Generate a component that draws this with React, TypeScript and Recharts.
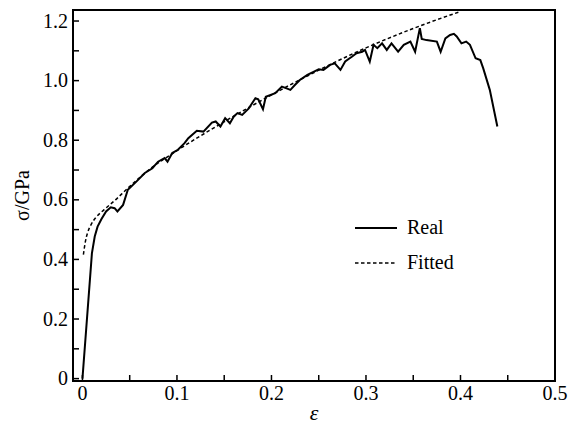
import { LineChart, Line, XAxis, YAxis, ReferenceArea, Legend } from 'recharts';

// measured curve (strain, stress in GPa)
const realStrain = [
  0, 0.010, 0.013, 0.016, 0.020, 0.025, 0.030, 0.034, 0.037, 0.043, 0.048, 0.057, 0.066, 0.074,
  0.080, 0.087, 0.090, 0.095, 0.101, 0.108, 0.112, 0.121, 0.128, 0.137, 0.141, 0.146, 0.151,
  0.156, 0.160, 0.164, 0.169, 0.176, 0.183, 0.186, 0.191, 0.194, 0.204, 0.211, 0.216, 0.220,
  0.225, 0.230, 0.238, 0.245, 0.250, 0.255, 0.262, 0.267, 0.273, 0.278, 0.285, 0.290, 0.296,
  0.299, 0.304, 0.308, 0.312, 0.317, 0.322, 0.327, 0.334, 0.340, 0.347, 0.352, 0.357, 0.359,
  0.364, 0.375, 0.379, 0.384, 0.389, 0.393, 0.396, 0.401, 0.406, 0.410, 0.416, 0.421, 0.424,
  0.431, 0.439,
];
const realStress = [
  0, 0.420, 0.477, 0.510, 0.535, 0.561, 0.575, 0.572, 0.561, 0.583, 0.634, 0.661, 0.690, 0.706,
  0.728, 0.740, 0.728, 0.757, 0.768, 0.790, 0.807, 0.832, 0.829, 0.859, 0.863, 0.846, 0.874,
  0.857, 0.879, 0.891, 0.885, 0.907, 0.941, 0.937, 0.904, 0.946, 0.958, 0.980, 0.974, 0.969,
  0.986, 1.002, 1.019, 1.030, 1.038, 1.036, 1.053, 1.058, 1.036, 1.064, 1.080, 1.092, 1.097,
  1.103, 1.064, 1.120, 1.109, 1.125, 1.103, 1.125, 1.097, 1.120, 1.131, 1.097, 1.176, 1.140,
  1.136, 1.131, 1.097, 1.142, 1.153, 1.157, 1.148, 1.125, 1.131, 1.120, 1.075, 1.069, 1.042,
  0.969, 0.846,
];

// fitted curve
const fitStrain = [0.001, 0.003, 0.0055, 0.009, 0.014, 0.023, 0.035, 0.048, 0.07, 0.1, 0.15, 0.2, 0.25, 0.3, 0.35, 0.4];
const fitStress = [0.416, 0.458, 0.49, 0.516, 0.54, 0.567, 0.6, 0.639, 0.7, 0.765, 0.862, 0.952, 1.035, 1.11, 1.175, 1.232];

const xTicks = [0, 0.05, 0.1, 0.15, 0.2, 0.25, 0.3, 0.35, 0.4, 0.45, 0.5];
const yTicks = [0, 0.1, 0.2, 0.3, 0.4, 0.5, 0.6, 0.7, 0.8, 0.9, 1.0, 1.1, 1.2];

const realData = realStrain.map((e, i) => ({ e, s: realStress[i] }));
const fitData = fitStrain.map((e, i) => ({ e, s: fitStress[i] }));

const FONT = '"Liberation Serif", "DejaVu Serif", serif';

const fmt = (v: number) => (v === 0 ? '0' : v.toFixed(1));

const XTick = ({ x, y, payload }: any) => {
  const v = payload.value;
  const major = Math.round(v * 100) % 10 === 0;
  return (
    <g>
      <line x1={x} y1={y} x2={x} y2={y - 6} stroke="#000" strokeWidth={1.5} />
      {major && (
        <text x={x} y={y + 19} textAnchor="middle" fontFamily={FONT} fontSize={20} fill="#000">
          {fmt(v)}
        </text>
      )}
    </g>
  );
};

const YTick = ({ x, y, payload }: any) => {
  const v = payload.value;
  const major = Math.round(v * 10) % 2 === 0;
  return (
    <g>
      <line x1={x} y1={y} x2={x + 6} y2={y} stroke="#000" strokeWidth={1.5} />
      {major && (
        <text x={x - 5} y={y + 6.5} textAnchor="end" fontFamily={FONT} fontSize={20} fill="#000">
          {fmt(v)}
        </text>
      )}
    </g>
  );
};

const LegendBox = () => (
  <svg width={130} height={60} style={{ display: 'block' }}>
    <line x1={5} y1={15} x2={47} y2={15} stroke="#000" strokeWidth={2} />
    <text x={57} y={21} fontFamily={FONT} fontSize={20} fill="#000">Real</text>
    <line x1={5} y1={50} x2={47} y2={50} stroke="#000" strokeWidth={1.5} strokeDasharray="3.5 2.5" />
    <text x={57} y={56} fontFamily={FONT} fontSize={20} fill="#000">Fitted</text>
  </svg>
);

export default function App() {
  return (
    <div style={{ position: 'absolute', left: 0, top: 0, background: '#fff' }}>
      <LineChart width={576} height={426} margin={{ top: 10, right: 21, bottom: 0, left: 0 }}>
        <XAxis
          dataKey="e"
          type="number"
          domain={[-0.01, 0.5]}
          ticks={xTicks}
          allowDataOverflow
          axisLine={false}
          tickLine={false}
          tickSize={0}
          tickMargin={0}
          height={45}
          tick={<XTick />}
          interval={0}
          label={{ value: 'ε', position: 'insideBottom', offset: 6, fontFamily: FONT, fontSize: 22, fontStyle: 'italic', fill: '#000' }}
        />
        <YAxis
          dataKey="s"
          type="number"
          domain={[-0.008, 1.237]}
          ticks={yTicks}
          allowDataOverflow
          axisLine={false}
          tickLine={false}
          tickSize={0}
          tickMargin={0}
          width={73}
          tick={<YTick />}
          interval={0}
          label={{ value: 'σ/GPa', angle: -90, position: 'insideLeft', offset: 22, fontFamily: FONT, fontSize: 20, fill: '#000', style: { textAnchor: 'middle' } }}
        />
        <ReferenceArea x1={-0.01} x2={0.5} y1={-0.008} y2={1.237} fill="none" stroke="#000" strokeWidth={2} ifOverflow="visible" />
        <Line data={fitData} dataKey="s" type="monotone" stroke="#000" strokeWidth={1.5} strokeDasharray="3.5 2.5" dot={false} isAnimationActive={false} />
        <Line data={realData} dataKey="s" type="linear" stroke="#000" strokeWidth={2} dot={false} isAnimationActive={false} />
        <Legend
          layout="vertical"
          align="center"
          verticalAlign="middle"
          content={<LegendBox />}
          wrapperStyle={{ left: 350, top: 213, width: 130 }}
        />
      </LineChart>
    </div>
  );
}
